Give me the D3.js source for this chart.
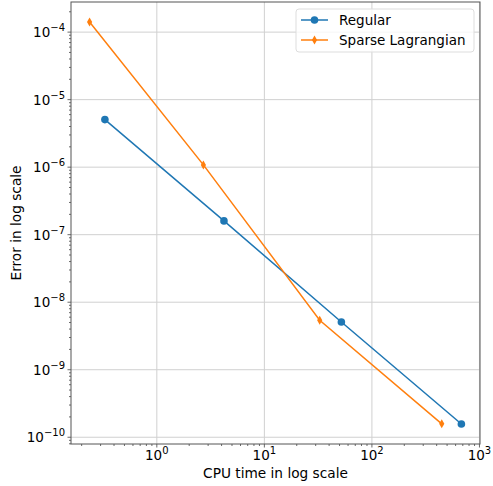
<!DOCTYPE html>
<html>
<head>
<meta charset="utf-8">
<script src="https://cdn.jsdelivr.net/npm/d3@7"></script>
<style>
  body { margin: 0; background: #fff; }
  text { font-family: "DejaVu Sans", sans-serif; fill: #000; }
</style>
</head>
<body>
<svg id="chart" width="493" height="486"></svg>
<script>
// данные
const regularTime  = [0.329, 4.21, 52, 679];
const regularError = [5.06e-6, 1.6e-7, 5.1e-9, 1.57e-10];
const sparseTime   = [0.237, 2.71, 32.7, 446];
const sparseError  = [1.41e-4, 1.08e-6, 5.4e-9, 1.58e-10];
const seriesNames  = ["Regular", "Sparse Lagrangian"];
const xTickExp     = [0, 1, 2, 3];
const yTickExp     = [-10, -9, -8, -7, -6, -5, -4];

const margin = {left: 71, right: 13, top: 2, bottom: 42};
const width  = 493, height = 486;

const svg = d3.select('#chart');

const xScale = d3.scaleLog()
    .domain([Math.pow(10, -0.798), Math.pow(10, 3.005)])
    .range([margin.left, width - margin.right]);

const yScale = d3.scaleLog()
    .domain([Math.pow(10, -10.10), Math.pow(10, -3.554)])
    .range([height - margin.bottom, margin.top]);

const x0 = margin.left, x1 = width - margin.right;
const y0 = height - margin.bottom, y1 = margin.top;

// сетка
const grid = svg.append('g');
xTickExp.forEach(e => {
    const x = xScale(Math.pow(10, e));
    grid.append('line').attr('x1', x).attr('x2', x).attr('y1', y1).attr('y2', y0)
        .attr('stroke', '#d0d0d0').attr('stroke-width', 1);
});
yTickExp.forEach(e => {
    const y = yScale(Math.pow(10, e));
    grid.append('line').attr('x1', x0).attr('x2', x1).attr('y1', y).attr('y2', y)
        .attr('stroke', '#d0d0d0').attr('stroke-width', 1);
});

// мелкие деления
function minorTicks(scale) {
    const [a, b] = scale.domain();
    const out = [];
    for (let e = Math.floor(Math.log10(a)); e <= Math.ceil(Math.log10(b)); e++) {
        for (let m = 2; m <= 9; m++) {
            const v = m * Math.pow(10, e);
            if (v >= a && v <= b) out.push(v);
        }
    }
    return out;
}

const ticks = svg.append('g').attr('stroke', '#444').attr('stroke-width', 0.8);
minorTicks(xScale).forEach(v => {
    const x = xScale(v);
    ticks.append('line').attr('x1', x).attr('x2', x).attr('y1', y0).attr('y2', y0 + 2);
});
minorTicks(yScale).forEach(v => {
    const y = yScale(v);
    ticks.append('line').attr('x1', x0).attr('x2', x0 - 2).attr('y1', y).attr('y2', y);
});
xTickExp.forEach(e => {
    const x = xScale(Math.pow(10, e));
    ticks.append('line').attr('x1', x).attr('x2', x).attr('y1', y0).attr('y2', y0 + 3.5);
});
yTickExp.forEach(e => {
    const y = yScale(Math.pow(10, e));
    ticks.append('line').attr('x1', x0).attr('x2', x0 - 3.5).attr('y1', y).attr('y2', y);
});

// подписи делений
function expLabel(sel, e) {
    sel.append('tspan').text('10');
    sel.append('tspan').attr('dy', -6).attr('font-size', 10)
        .text(String(e).replace('-', '\u2212'));
}
xTickExp.forEach(e => {
    const t = svg.append('text')
        .attr('x', xScale(Math.pow(10, e)))
        .attr('y', y0 + 16)
        .attr('text-anchor', 'middle')
        .attr('font-size', 13.5);
    expLabel(t, e);
});
yTickExp.forEach(e => {
    const t = svg.append('text')
        .attr('x', x0 - 6)
        .attr('y', yScale(Math.pow(10, e)) + 5)
        .attr('text-anchor', 'end')
        .attr('font-size', 13.5);
    expLabel(t, e);
});

// рамка
svg.append('rect')
    .attr('x', x0).attr('y', y1)
    .attr('width', x1 - x0).attr('height', y0 - y1)
    .attr('fill', 'none').attr('stroke', '#555').attr('stroke-width', 1);

// линии
const colors = ['#1f77b4', '#ff7f0e'];
const line = d3.line().x(d => xScale(d[0])).y(d => yScale(d[1]));
const regular = regularTime.map((t, i) => [t, regularError[i]]);
const sparse  = sparseTime.map((t, i) => [t, sparseError[i]]);

function diamond(g, x, y, color) {
    g.append('path')
        .attr('d', `M${x},${y - 4.5}L${x + 2.6},${y}L${x},${y + 4.5}L${x - 2.6},${y}Z`)
        .attr('fill', color);
}

svg.append('path').datum(regular).attr('d', line)
    .attr('fill', 'none').attr('stroke', colors[0]).attr('stroke-width', 1.5);
svg.append('path').datum(sparse).attr('d', line)
    .attr('fill', 'none').attr('stroke', colors[1]).attr('stroke-width', 1.5);

svg.selectAll('circle.reg').data(regular).enter().append('circle')
    .attr('cx', d => xScale(d[0])).attr('cy', d => yScale(d[1]))
    .attr('r', 3.8).attr('fill', colors[0]);
const sg = svg.append('g');
sparse.forEach(d => diamond(sg, xScale(d[0]), yScale(d[1]), colors[1]));

// легенда
const lg = svg.append('g');
lg.append('rect')
    .attr('x', 296).attr('y', 9).attr('width', 178).attr('height', 43).attr('rx', 3)
    .attr('fill', 'rgba(255,255,255,0.8)').attr('stroke', '#ddd');
[0, 1].forEach(i => {
    const y = 20 + i * 20;
    lg.append('line').attr('x1', 301).attr('x2', 328).attr('y1', y).attr('y2', y)
        .attr('stroke', colors[i]).attr('stroke-width', 1.5);
    if (i === 0) lg.append('circle').attr('cx', 314.5).attr('cy', y).attr('r', 3.8).attr('fill', colors[0]);
    else diamond(lg, 314.5, y, colors[1]);
    lg.append('text').attr('x', 339).attr('y', y + 5).attr('font-size', 13.5).text(seriesNames[i]);
});

// подписи осей
svg.append('text')
    .attr('x', (x0 + x1) / 2).attr('y', 478)
    .attr('text-anchor', 'middle').attr('font-size', 13.7)
    .text('CPU time in log scale');
svg.append('text')
    .attr('transform', `translate(21,${(y0 + y1) / 2}) rotate(-90)`)
    .attr('text-anchor', 'middle').attr('font-size', 13.7)
    .text('Error in log scale');
</script>
</body>
</html>
